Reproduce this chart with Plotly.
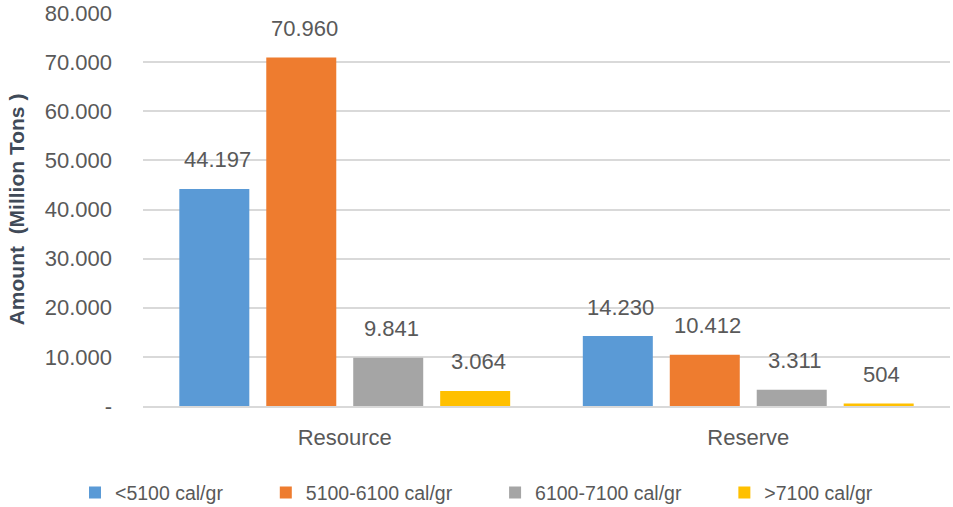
import plotly.graph_objects as go

categories = ["Resource", "Reserve"]
series_names = ["<5100 cal/gr", "5100-6100 cal/gr", "6100-7100 cal/gr", ">7100 cal/gr"]
vals_lt5100 = [44197, 14230]
vals_5100_6100 = [70960, 10412]
vals_6100_7100 = [9841, 3311]
vals_gt7100 = [3064, 504]
series_values = [vals_lt5100, vals_5100_6100, vals_6100_7100, vals_gt7100]
colors = ["#5A9AD6", "#EE7C2F", "#A5A5A5", "#FFC000"]
y_tickvals = [0, 10000, 20000, 30000, 40000, 50000, 60000, 70000, 80000]
y_ticktext = ["-", "10.000", "20.000", "30.000", "40.000", "50.000", "60.000", "70.000", "80.000"]


def fmt(v):
    return f"{v:,}".replace(",", ".")


W, H = 953, 507
ML, MR, MT, MB = 143, 3, 13, 101
BARGAP = 0.138
BARGROUPGAP = 0.195
FONT = "Liberation Sans, Arial, sans-serif"
TXT = "#595959"

pad = "\u00a0" * 7
fig = go.Figure()
for i, (name, vals, col) in enumerate(zip(series_names, series_values, colors)):
    fig.add_trace(go.Bar(
        x=categories, y=vals,
        name=name + (pad if i < len(series_names) - 1 else ""),
        marker=dict(color=col, line=dict(width=0)),
        hoverinfo="x+y+name",
    ))

plot_w = W - ML - MR
slot = plot_w / len(categories) * (1 - BARGAP) / len(series_names)
annotations = []
for i, vals in enumerate(series_values):
    for cat, v in zip(categories, vals):
        annotations.append(dict(
            x=cat, y=v, xref="x", yref="y", text=fmt(v), showarrow=False,
            xshift=(i - (len(series_names) - 1) / 2) * slot + 3, yshift=29,
            yanchor="middle", font=dict(family=FONT, size=22, color=TXT),
        ))

fig.update_layout(
    width=W, height=H,
    margin=dict(l=ML, r=MR, t=MT, b=MB, autoexpand=False),
    paper_bgcolor="white", plot_bgcolor="white",
    barmode="group", bargap=BARGAP, bargroupgap=BARGROUPGAP,
    font=dict(family=FONT, color=TXT),
    annotations=annotations,
    legend=dict(
        orientation="h", xref="container", yref="container",
        x=0.5, xanchor="center", y=0.028, yanchor="middle",
        font=dict(family=FONT, size=19.5, color=TXT),
        itemwidth=30,
    ),
    xaxis=dict(
        showgrid=False, showline=True, linecolor="#D9D9D9", linewidth=1.5,
        tickfont=dict(family=FONT, size=22, color=TXT),
        ticklabelstandoff=11, ticks="",
    ),
    yaxis=dict(
        range=[0, 80000], tickvals=y_tickvals, ticktext=y_ticktext,
        showgrid=True, gridcolor="#D9D9D9", gridwidth=1.5,
        zeroline=False, showline=False, ticks="",
        tickfont=dict(family=FONT, size=22, color=TXT),
        ticklabelstandoff=30,
        title=dict(text="<b>Amount  (Million Tons )</b>", standoff=14,
                   font=dict(family=FONT, size=21, color="#404A58")),
    ),
)

fig.write_html(
    "out.html",
    config={"displayModeBar": False},
    post_script="document.body.style.margin='0';document.body.style.overflow='hidden';",
)
